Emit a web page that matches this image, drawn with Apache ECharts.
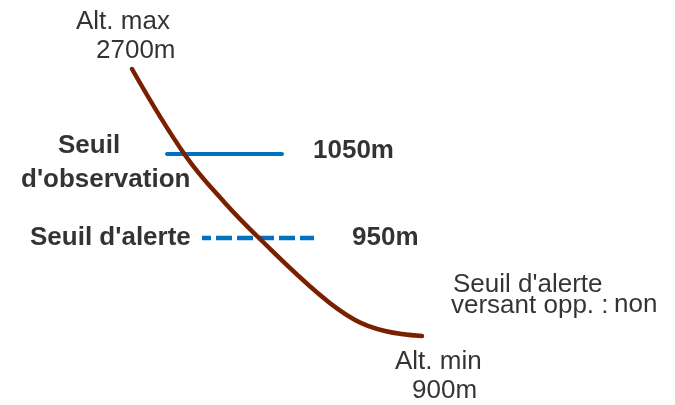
<!DOCTYPE html>
<html><head><meta charset="utf-8">
<script src="https://cdn.jsdelivr.net/npm/echarts@6/dist/echarts.min.js"></script>
<style>html,body{margin:0;padding:0;background:#fff}#c{width:675px;height:405px}</style>
</head><body><div id="c"></div>
<script>
// Schematic coordinate space (x to the right, y downward)
const slopeX = [132, 185, 225, 260, 320, 355, 385, 422];
const slopeY = [69, 155, 203, 239, 295, 320, 331, 336];
const obsLineX = [167, 282], obsLineY = 154;
const alertLineX = [202, 314], alertLineY = 238;

const labelTexts = ["Alt. max", "2700m", "Seuil", "d'observation", "1050m", "Seuil d'alerte", "950m",
  "Seuil d'alerte", "versant opp. :", "non", "Alt. min", "900m"];
const labelX = [76, 96, 58, 21, 313, 30, 352, 453, 451, 614, 395, 412];
const labelY = [22, 51, 146, 180, 151, 238, 238, 285, 306, 305, 362, 391];
const labelBold = [false, false, true, true, true, true, true, false, false, false, false, false];

const chart = echarts.init(document.getElementById('c'));
chart.setOption({
  animation: false,
  backgroundColor: '#ffffff',
  grid: {left: 0, right: 0, top: 0, bottom: 0},
  xAxis: {type: 'value', min: 0, max: 675, show: false},
  yAxis: {type: 'value', min: 0, max: 405, inverse: true, show: false},
  series: [
    {type: 'line', data: obsLineX.map(x => [x, obsLineY]), symbol: 'none', silent: true,
     lineStyle: {color: '#0070C0', width: 4, cap: 'round'}},
    {type: 'line', data: alertLineX.map(x => [x, alertLineY]), symbol: 'none', silent: true,
     lineStyle: {color: '#0070C0', width: 4.5, type: [16, 5], dashOffset: 7}},
    {type: 'line', data: slopeX.map((x, i) => [x, slopeY[i]]), symbol: 'none', smooth: 0.4, silent: true,
     lineStyle: {color: '#7A2000', width: 4.5, cap: 'round', join: 'round'}, z: 3},
    {type: 'scatter', symbolSize: 0, silent: true, z: 5,
     label: {show: true, color: '#000000', textBorderWidth: 0},
     data: labelTexts.map((t, i) => ({
       value: [labelX[i], labelY[i]],
       label: {show: true, position: 'inside', align: 'left', verticalAlign: 'middle',
         formatter: t, color: '#000000', textBorderWidth: 0, textBorderColor: 'transparent', fontSize: 26,
         fontFamily: 'Liberation Sans, Arial, sans-serif',
         fontWeight: labelBold[i] ? 'bold' : 'normal'}
     }))}
  ]
});
</script></body></html>
